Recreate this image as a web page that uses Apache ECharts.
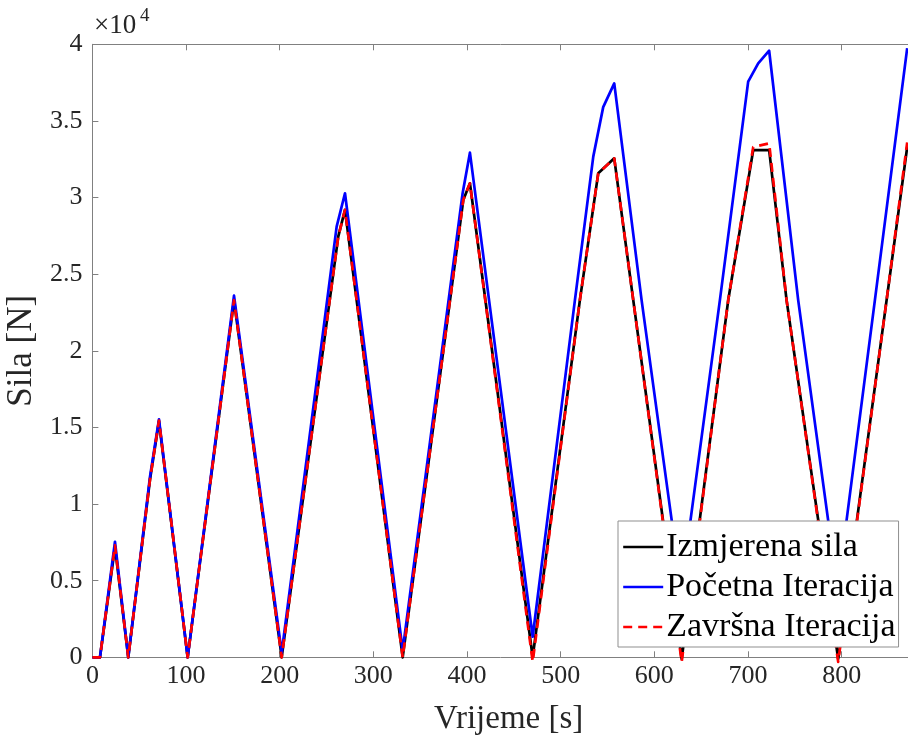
<!DOCTYPE html>
<html>
<head>
<meta charset="utf-8">
<script src="https://cdn.jsdelivr.net/npm/echarts@6/dist/echarts.min.js"></script>
<style>
html,body{margin:0;padding:0;background:#fff;}
#chart{width:908px;height:737px;}
</style>
</head>
<body>
<div id="chart"></div>
<script>
// Izmjerena sila (measured force)
const timeMeasured  = [0, 8.1, 24.1, 38.3, 61.5, 71.1, 101.7, 151.2, 202.1, 262.5, 269.7, 331.3, 396, 403.1, 470.1, 520.5, 540.1, 557.2, 577.5, 629.2, 678.9, 705.6, 722.6, 741.2, 796.3, 848, 870];
const forceMeasured = [0, 0, 7200, 0, 11600, 15400, 0, 23300, 0, 27450, 29200, 0, 29840, 30930, 0, 23310, 31580, 32560, 23310, -100, 23310, 33100, 33100, 23310, -100, 23310, 33300];

// Početna Iteracija (initial iteration)
const timeInitial  = [0, 8.1, 24.1, 38.3, 61.5, 71.1, 101.7, 151.2, 202.1, 260.8, 269.7, 331.3, 395.3, 403.1, 470.1, 515.2, 534.8, 545.4, 557.2, 586.4, 628.7, 670, 700.2, 710.9, 722.6, 753.6, 795.7, 835.5, 870];
const forceInitial = [0, 0, 7540, 0, 11780, 15530, 0, 23600, 300, 28100, 30280, 450, 30280, 32930, 1340, 23310, 32670, 35900, 37450, 23310, 4400, 23310, 37560, 38760, 39580, 23310, 4400, 23310, 39750];

// Završna Iteracija (final iteration)
const timeFinal  = [0, 8.1, 24.1, 38.3, 61.5, 71.1, 101.7, 151.2, 202.1, 262.5, 269.7, 331.3, 396, 403.1, 470.1, 520.5, 540.1, 557.2, 577.5, 629.2, 678.9, 705.6, 722.6, 741.2, 796.3, 848, 870];
const forceFinal = [0, 0, 7300, 0, 11600, 15450, 0, 23300, 0, 27450, 29200, 0, 29840, 30930, -300, 23310, 31580, 32560, 23310, -300, 23310, 33300, 33540, 23310, -300, 23310, 33600];

const seriesNames = ['Izmjerena sila', 'Početna Iteracija', 'Završna Iteracija'];

const pairs = (t, f) => t.map((x, i) => [x, f[i]]);

const FONT = '"Liberation Serif", "Times New Roman", serif';
const AXIS_COLOR = '#808080';
const LABEL_COLOR = '#262626';

const chart = echarts.init(document.getElementById('chart'), null, {renderer: 'canvas'});

chart.setOption({
  animation: false,
  backgroundColor: '#fff',
  grid: {left: 92.4, right: -17, top: 44.3, bottom: 79.7, containLabel: false, outerBoundsMode: 'none'},
  xAxis: [{
    type: 'value', min: 0, max: 889, interval: 100, position: 'bottom',
    name: 'Vrijeme [s]', nameLocation: 'middle', nameGap: 46,
    nameTextStyle: {fontFamily: FONT, fontSize: 33, color: LABEL_COLOR},
    axisLine: {show: true, onZero: false, lineStyle: {color: AXIS_COLOR, width: 1}},
    axisTick: {show: true, inside: true, length: 6, lineStyle: {color: AXIS_COLOR}},
    axisLabel: {fontFamily: FONT, fontSize: 26, color: LABEL_COLOR, margin: 6,
      formatter: v => (v > 870 ? '' : String(v))},
    splitLine: {show: false}
  }, {
    type: 'value', min: 0, max: 889, interval: 100, position: 'top',
    axisLine: {show: true, onZero: false, lineStyle: {color: AXIS_COLOR, width: 1}},
    axisTick: {show: true, inside: true, length: 6, lineStyle: {color: AXIS_COLOR}},
    axisLabel: {show: false},
    splitLine: {show: false}
  }],
  yAxis: [{
    type: 'value', min: 0, max: 40000, interval: 5000,
    name: 'Sila [N]', nameLocation: 'middle', nameGap: 48, nameRotate: 90,
    nameTextStyle: {fontFamily: FONT, fontSize: 35, color: LABEL_COLOR},
    axisLine: {show: true, onZero: false, lineStyle: {color: AXIS_COLOR, width: 1}},
    axisTick: {show: true, inside: true, length: 6, lineStyle: {color: AXIS_COLOR}},
    axisLabel: {fontFamily: FONT, fontSize: 26, color: LABEL_COLOR, margin: 10,
      formatter: v => String(v / 10000)},
    splitLine: {show: false}
  }],
  legend: {
    orient: 'vertical', left: 618, top: 521, z: 20, zlevel: 1,
    data: seriesNames,
    backgroundColor: '#ffffff', borderColor: '#8f8f8f', borderWidth: 1,
    padding: [9, 3, 3, 4], itemGap: 6, itemWidth: 40, itemHeight: 14,
    itemStyle: {opacity: 0},
    lineStyle: {width: 2.4},
    textStyle: {fontFamily: FONT, fontSize: 34, color: '#000', padding: [0, 0, 0, -2]}
  },
  graphic: [
    {type: 'text', left: 94, top: 12, style: {text: '×10', font: '27px ' + FONT, fill: LABEL_COLOR}},
    {type: 'text', left: 140, top: 7, style: {text: '4', font: '19px ' + FONT, fill: LABEL_COLOR}}
  ],
  series: [
    {name: seriesNames[0], type: 'line', data: pairs(timeMeasured, forceMeasured),
      showSymbol: false, symbol: 'none', clip: false, z: 2,
      lineStyle: {color: '#000000', width: 2.7, join: 'round'}, itemStyle: {color: '#000000'}},
    {name: seriesNames[1], type: 'line', data: pairs(timeInitial, forceInitial),
      showSymbol: false, symbol: 'none', clip: false, z: 2,
      lineStyle: {color: '#0000ff', width: 2.7, join: 'round'}, itemStyle: {color: '#0000ff'}},
    {name: seriesNames[2], type: 'line', data: pairs(timeFinal, forceFinal),
      showSymbol: false, symbol: 'none', clip: false, z: 2,
      lineStyle: {color: '#ff0000', width: 2.7, type: [9, 6], join: 'round'}, itemStyle: {color: '#ff0000'}}
  ]
});
</script>
</body>
</html>
